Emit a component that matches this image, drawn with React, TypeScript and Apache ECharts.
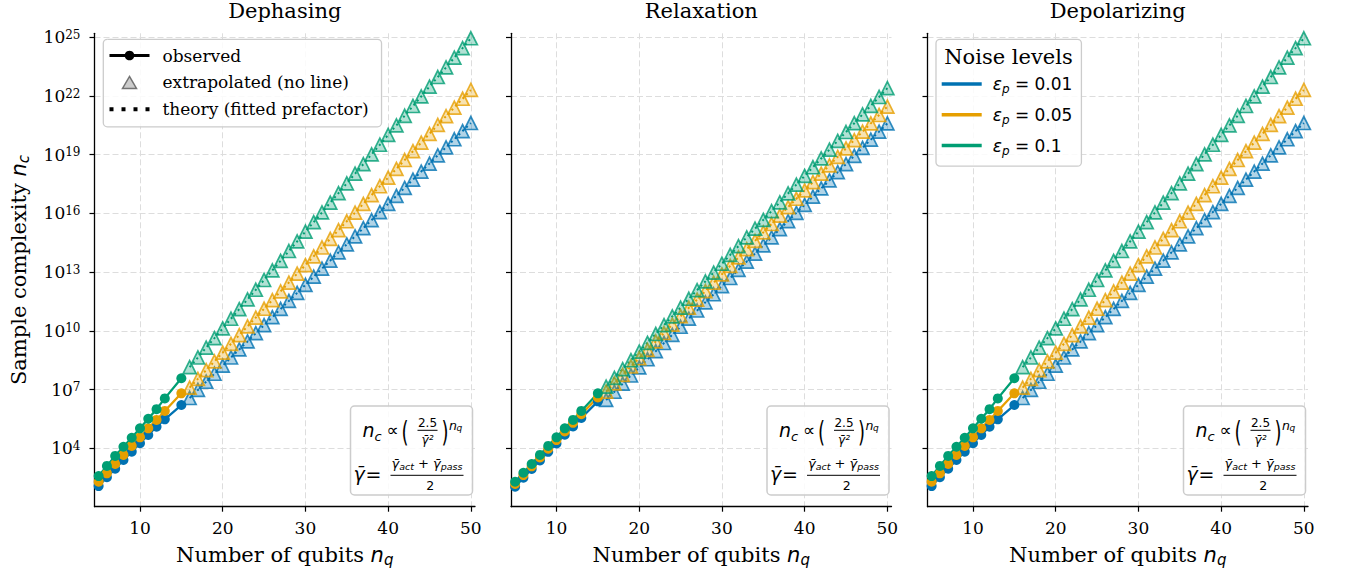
import React, { useEffect, useRef } from 'react';
import * as echarts from 'echarts';

// ---------------- data (log10 of sample complexity n_c) ----------------
const PANEL_TITLES = ['Dephasing', 'Relaxation', 'Depolarizing'];
const NOISE_LABELS = ['ε_p = 0.01', 'ε_p = 0.05', 'ε_p = 0.1'];
const NOISE_COLORS = ['#0072B2', '#E69F00', '#009E73'];
const NOISE_FILLS = ['rgba(0,114,178,0.38)', 'rgba(230,159,0,0.38)', 'rgba(0,158,115,0.38)'];
const X_TICKS = [10, 20, 30, 40, 50];
const Y_TICK_EXPONENTS = [4, 7, 10, 13, 16, 19, 22, 25];
const OBSERVED_N = [5, 6, 7, 8, 9, 10, 11, 12, 13, 15];
const EXTRAPOLATED_N = [16, 17, 18, 19, 20, 21, 22, 23, 24, 25, 26, 27, 28, 29, 30, 31, 32, 33, 34, 35, 36, 37, 38, 39, 40, 41, 42, 43, 44, 45, 46, 47, 48, 49, 50];

const dephObs001 = [2.07, 2.52, 2.96, 3.40, 3.83, 4.26, 4.68, 5.10, 5.48, 6.21];
const dephObs005 = [2.29, 2.72, 3.20, 3.66, 4.12, 4.56, 5.02, 5.45, 5.91, 6.81];
const dephObs010 = [2.58, 3.10, 3.61, 4.08, 4.54, 5.02, 5.51, 6.00, 6.55, 7.58];
const dephExt001 = [6.57, 6.98, 7.40, 7.81, 8.22, 8.64, 9.05, 9.46, 9.88, 10.29, 10.70, 11.12, 11.53, 11.94, 12.35, 12.77, 13.18, 13.59, 14.01, 14.42, 14.83, 15.25, 15.66, 16.07, 16.49, 16.90, 17.31, 17.73, 18.14, 18.55, 18.97, 19.38, 19.79, 20.21, 20.62];
const dephExt005 = [7.10, 7.55, 7.99, 8.44, 8.89, 9.34, 9.78, 10.23, 10.68, 11.13, 11.57, 12.02, 12.47, 12.92, 13.36, 13.81, 14.26, 14.70, 15.15, 15.60, 16.04, 16.49, 16.94, 17.39, 17.83, 18.28, 18.73, 19.18, 19.62, 20.07, 20.52, 20.97, 21.41, 21.86, 22.31];
const dephExt010 = [8.15, 8.64, 9.14, 9.63, 10.13, 10.62, 11.11, 11.61, 12.10, 12.60, 13.09, 13.58, 14.08, 14.57, 15.07, 15.56, 16.05, 16.55, 17.04, 17.54, 18.03, 18.52, 19.02, 19.51, 20.01, 20.50, 20.99, 21.49, 21.98, 22.48, 22.97, 23.46, 23.96, 24.45, 24.95];

const relaxObs001 = [2.04, 2.50, 2.94, 3.38, 3.82, 4.25, 4.69, 5.12, 5.55, 6.40];
const relaxObs005 = [2.18, 2.63, 3.08, 3.53, 3.98, 4.42, 4.86, 5.30, 5.74, 6.60];
const relaxObs010 = [2.29, 2.75, 3.20, 3.66, 4.12, 4.56, 5.02, 5.45, 5.91, 6.81];
const relaxExt001 = [6.47, 6.89, 7.30, 7.72, 8.13, 8.55, 8.96, 9.38, 9.80, 10.21, 10.63, 11.04, 11.46, 11.87, 12.29, 12.70, 13.12, 13.54, 13.95, 14.37, 14.78, 15.20, 15.61, 16.03, 16.44, 16.86, 17.28, 17.69, 18.11, 18.52, 18.94, 19.35, 19.77, 20.18, 20.60];
const relaxExt005 = [6.89, 7.32, 7.75, 8.18, 8.60, 9.03, 9.46, 9.89, 10.32, 10.75, 11.18, 11.60, 12.03, 12.46, 12.89, 13.32, 13.75, 14.18, 14.60, 15.03, 15.46, 15.89, 16.32, 16.75, 17.18, 17.60, 18.03, 18.46, 18.89, 19.32, 19.75, 20.18, 20.60, 21.03, 21.46];
const relaxExt010 = [7.15, 7.60, 8.05, 8.50, 8.94, 9.39, 9.84, 10.29, 10.74, 11.19, 11.64, 12.08, 12.53, 12.98, 13.43, 13.88, 14.33, 14.78, 15.22, 15.67, 16.12, 16.57, 17.02, 17.47, 17.92, 18.36, 18.81, 19.26, 19.71, 20.16, 20.61, 21.06, 21.50, 21.95, 22.40];

const depolObs001 = [2.07, 2.52, 2.96, 3.40, 3.83, 4.26, 4.68, 5.10, 5.48, 6.21];
const depolObs005 = [2.29, 2.72, 3.20, 3.66, 4.12, 4.56, 5.02, 5.45, 5.91, 6.81];
const depolObs010 = [2.58, 3.10, 3.61, 4.08, 4.54, 5.02, 5.51, 6.00, 6.55, 7.58];
const depolExt001 = [6.57, 6.98, 7.40, 7.81, 8.22, 8.64, 9.05, 9.46, 9.88, 10.29, 10.70, 11.12, 11.53, 11.94, 12.35, 12.77, 13.18, 13.59, 14.01, 14.42, 14.83, 15.25, 15.66, 16.07, 16.49, 16.90, 17.31, 17.73, 18.14, 18.55, 18.97, 19.38, 19.79, 20.21, 20.62];
const depolExt005 = [7.10, 7.55, 7.99, 8.44, 8.89, 9.34, 9.78, 10.23, 10.68, 11.13, 11.57, 12.02, 12.47, 12.92, 13.36, 13.81, 14.26, 14.70, 15.15, 15.60, 16.04, 16.49, 16.94, 17.39, 17.83, 18.28, 18.73, 19.18, 19.62, 20.07, 20.52, 20.97, 21.41, 21.86, 22.31];
const depolExt010 = [8.15, 8.64, 9.14, 9.63, 10.13, 10.62, 11.11, 11.61, 12.10, 12.60, 13.09, 13.58, 14.08, 14.57, 15.07, 15.56, 16.05, 16.55, 17.04, 17.54, 18.03, 18.52, 19.02, 19.51, 20.01, 20.50, 20.99, 21.49, 21.98, 22.48, 22.97, 23.46, 23.96, 24.45, 24.95];

const PANEL_OBSERVED = [
  [dephObs001, dephObs005, dephObs010],
  [relaxObs001, relaxObs005, relaxObs010],
  [depolObs001, depolObs005, depolObs010],
];
const PANEL_EXTRAPOLATED = [
  [dephExt001, dephExt005, dephExt010],
  [relaxExt001, relaxExt005, relaxExt010],
  [depolExt001, depolExt005, depolExt010],
];

// ---------------- layout ----------------
const GRID_LEFTS = [94.5, 511, 927.5];
const GRID_W = 380.5;
const GRID_TOP = 33.3;
const GRID_H = 473.4;
const Y_MIN_EXP = 1.016;
const Y_MAX_EXP = 25.204;

const SERIF = 'DejaVu Serif';
const SANS = 'DejaVu Sans';

const pw = (e: number) => Math.pow(10, e);

function formulaBox(left: number, top: number) {
  const t = (text: string, x: number, y: number, size: number, italic = false, align = 'left', scaleY = 1) => ({
    type: 'text', x, y, z: 101, silent: true, scaleY,
    style: { text, fontSize: size, fontFamily: SANS, fontStyle: italic ? 'italic' : 'normal', fill: '#000', align, verticalAlign: 'middle' },
  });
  return {
    type: 'group', x: left, y: top, z: 100,
    children: [
      { type: 'rect', z: 100, silent: true, shape: { x: 0, y: 0, width: 122, height: 89, r: 4 }, style: { fill: 'rgba(255,255,255,0.85)', stroke: '#cccccc', lineWidth: 1.5 } },
      t('n', 12, 24.3, 19, true),
      t('c', 24, 30.5, 13, true),
      t('∝', 36, 24.3, 17),
      t('(', 51, 26.5, 18, false, 'left', 1.6),
      t('2.5', 77, 16.8, 12, false, 'center'),
      { type: 'line', z: 101, silent: true, shape: { x1: 67, y1: 24.3, x2: 87, y2: 24.3 }, style: { stroke: '#000', lineWidth: 1 } },
      t('γ̄²', 77, 34.3, 12, true, 'center'),
      t(')', 91, 26.5, 18, false, 'left', 1.6),
      t('n', 98.5, 19, 12.5, true),
      t('q', 106, 22, 9, true),
      t('γ̄', 3, 67.6, 19, true),
      t('=', 15, 67.6, 19),
      {
        type: 'text', x: 76.5, y: 57.6, z: 101, silent: true,
        style: {
          text: '{g|γ̄}{s|act}{o| + }{g|γ̄}{s|pass}', align: 'center', verticalAlign: 'middle', fill: '#000',
          rich: {
            g: { fontSize: 13, fontFamily: SANS, fontStyle: 'italic', lineHeight: 16 },
            s: { fontSize: 9.5, fontFamily: SANS, fontStyle: 'italic', lineHeight: 10, verticalAlign: 'bottom' },
            o: { fontSize: 13, fontFamily: SANS, lineHeight: 16 },
          },
        },
      },
      { type: 'line', z: 101, silent: true, shape: { x1: 40, y1: 69.3, x2: 113, y2: 69.3 }, style: { stroke: '#000', lineWidth: 1 } },
      t('2', 79.7, 79.3, 12.5, false, 'center'),
    ],
  };
}

function buildOption() {
  const grids = GRID_LEFTS.map((l) => ({ left: l, top: GRID_TOP, width: GRID_W, height: GRID_H }));
  const splitLine = { show: true, lineStyle: { color: '#dddddd', type: [6, 3], width: 1 } };
  const nameRich = {
    a: { fontSize: 21, fontFamily: SERIF, color: '#000', lineHeight: 26 },
    i: { fontSize: 21, fontFamily: SANS, fontStyle: 'italic', color: '#000', lineHeight: 26 },
    s: { fontSize: 15, fontFamily: SANS, fontStyle: 'italic', color: '#000', lineHeight: 15, verticalAlign: 'bottom' },
  };
  const xAxes = GRID_LEFTS.map((_, i) => ({
    type: 'value', gridIndex: i, min: 4.5, max: 50.5,
    name: '{a|Number of qubits }{i|n}{s|q}', nameLocation: 'middle', nameGap: 35,
    nameTextStyle: { rich: nameRich },
    axisLine: { show: true, onZero: false, lineStyle: { color: '#000', width: 1.3 } },
    axisTick: { show: true, length: 5, customValues: X_TICKS, lineStyle: { color: '#000', width: 1.2 } },
    axisLabel: {
      customValues: X_TICKS, margin: 11,
      formatter: (v: number) => `{t|${v}}`,
      rich: { t: { fontSize: 17, fontFamily: SERIF, color: '#000', lineHeight: 20 } },
    },
    splitLine,
  }));
  const Y_TICKS = Y_TICK_EXPONENTS.map(pw);
  const yAxes = GRID_LEFTS.map((_, i) => ({
    type: 'log', logBase: 10, gridIndex: i, min: pw(Y_MIN_EXP), max: pw(Y_MAX_EXP),
    name: i === 0 ? '{a|Sample complexity }{i|n}{s|c}' : '', nameLocation: 'middle', nameGap: 63, nameRotate: 90,
    nameTextStyle: { rich: nameRich },
    axisLine: { show: true, onZero: false, lineStyle: { color: '#000', width: 1.3 } },
    axisTick: { show: true, length: 5, customValues: Y_TICKS, lineStyle: { color: '#000', width: 1.2 } },
    axisLabel: {
      show: i === 0, customValues: Y_TICKS, margin: 14,
      formatter: (v: number) => `{b|10}{e|${Math.round(Math.log10(v))}}`,
      rich: {
        b: { fontSize: 17, fontFamily: SERIF, color: '#000', lineHeight: 17, padding: [5, 0, 0, 0], verticalAlign: 'bottom' },
        e: { fontSize: 12, fontFamily: SERIF, color: '#000', lineHeight: 12, verticalAlign: 'top' },
      },
    },
    splitLine,
  }));

  const series: any[] = [];
  for (let p = 0; p < 3; p++) {
    for (let k = 0; k < 3; k++) {
      const color = NOISE_COLORS[k];
      const obs = PANEL_OBSERVED[p][k];
      const ext = PANEL_EXTRAPOLATED[p][k];
      series.push({
        name: `${PANEL_TITLES[p]} observed ${NOISE_LABELS[k]}`, type: 'line', xAxisIndex: p, yAxisIndex: p,
        data: OBSERVED_N.map((n, i) => [n, pw(obs[i])]), symbol: 'circle', symbolSize: 10, showSymbol: true,
        lineStyle: { color, width: 2.3 }, itemStyle: { color }, silent: true, z: 2,
      });
      series.push({
        name: `${PANEL_TITLES[p]} extrapolated ${NOISE_LABELS[k]}`, type: 'scatter', xAxisIndex: p, yAxisIndex: p,
        data: EXTRAPOLATED_N.map((n, i) => [n, pw(ext[i])]), symbol: 'triangle', symbolSize: 13,
        itemStyle: { color: NOISE_FILLS[k], borderColor: color, borderWidth: 1.7 }, silent: true, z: 2,
      });
      series.push({
        name: `${PANEL_TITLES[p]} theory ${NOISE_LABELS[k]}`, type: 'line', xAxisIndex: p, yAxisIndex: p,
        data: EXTRAPOLATED_N.map((n, i) => [n, pw(ext[i])]), symbol: 'none', showSymbol: false,
        lineStyle: { color, width: 2, type: [2, 3.3] }, itemStyle: { color }, silent: true, z: 2,
      });
    }
  }
  // legend entries (no data)
  series.push({ name: 'observed', type: 'line', xAxisIndex: 0, yAxisIndex: 0, data: [], symbol: 'circle', symbolSize: 9, color: '#000', itemStyle: { color: '#000' }, lineStyle: { color: '#000', width: 3 } });
  series.push({ name: 'extrapolated (no line)', type: 'scatter', xAxisIndex: 0, yAxisIndex: 0, data: [], symbol: 'triangle', color: 'rgba(128,128,128,0.5)', itemStyle: { color: 'rgba(128,128,128,0.5)', borderColor: '#555', borderWidth: 1.5 } });
  series.push({ name: 'theory (fitted prefactor)', type: 'line', xAxisIndex: 0, yAxisIndex: 0, data: [], symbol: 'none', color: '#000', itemStyle: { color: '#000' }, lineStyle: { color: '#000', width: 3, type: 'dotted' } });
  NOISE_LABELS.forEach((label, k) => {
    series.push({ name: label, type: 'line', xAxisIndex: 2, yAxisIndex: 2, data: [], symbol: 'none', color: NOISE_COLORS[k], itemStyle: { color: NOISE_COLORS[k] }, lineStyle: { color: NOISE_COLORS[k], width: 3 } });
  });

  const legendBox = { backgroundColor: 'rgba(255,255,255,0.85)', borderColor: '#cccccc', borderWidth: 1.3, borderRadius: 4 };

  return {
    animation: false,
    backgroundColor: '#ffffff',
    title: PANEL_TITLES.map((text, i) => ({
      text, left: GRID_LEFTS[i] + GRID_W / 2, top: 0, textAlign: 'center', padding: 0,
      textStyle: { fontSize: 21, fontFamily: SERIF, fontWeight: 'normal', color: '#000' },
    })),
    grid: grids,
    xAxis: xAxes,
    yAxis: yAxes,
    legend: [
      {
        ...legendBox, orient: 'vertical', left: 103.3, top: 39.3, padding: [7.7, 13, 9, 4.7], itemGap: 9.9,
        itemWidth: 40, itemHeight: 12, selectedMode: false, align: 'left',
        lineStyle: { width: 3 },
        data: [
          { name: 'observed' },
          { name: 'extrapolated (no line)', icon: 'path://M0,6L0,6M20,0L27,12L13,12ZM40,6L40,6', itemStyle: { color: 'rgba(128,128,128,0.5)', borderColor: '#555', borderWidth: 1.5 } },
          { name: 'theory (fitted prefactor)', icon: 'path://M0,0h4v4h-4zM12,0h4v4h-4zM24,0h4v4h-4zM36,0h4v4h-4z', itemStyle: { color: '#000' } },
        ],
        formatter: '{t|{name}}',
        textStyle: { rich: { t: { fontSize: 17, fontFamily: SERIF, color: '#000', lineHeight: 20, padding: [0, 0, 0, 8] } } },
      },
      {
        ...legendBox, orient: 'vertical', left: 936, top: 39.3, padding: [36.3, 9, 9.7, 5.7], itemGap: 11.2,
        itemWidth: 40, itemHeight: 3.5, icon: 'rect', selectedMode: false, align: 'left',
        data: NOISE_LABELS,
        formatter: (name: string) => `{e|ε}{p|p}{t| = ${name.split('= ')[1]}}`,
        textStyle: {
          rich: {
            e: { fontSize: 17, fontFamily: SANS, fontStyle: 'italic', color: '#000', lineHeight: 22, padding: [0, 0, 0, 6] },
            p: { fontSize: 12, fontFamily: SANS, fontStyle: 'italic', color: '#000', lineHeight: 12, verticalAlign: 'bottom' },
            t: { fontSize: 17, fontFamily: SANS, color: '#000', lineHeight: 22 },
          },
        },
      },
    ],
    graphic: [
      ...GRID_LEFTS.map((l) => formulaBox(l + GRID_W - 2.5 - 122, 406)),
      { type: 'text', x: 1008.5, y: 57, z: 110, silent: true, style: { text: 'Noise levels', fontSize: 21, fontFamily: SERIF, fill: '#000', align: 'center', verticalAlign: 'middle' } },
    ],
    series,
  };
}

export default function App() {
  const ref = useRef<HTMLDivElement>(null);
  useEffect(() => {
    if (!ref.current) return;
    const chart = echarts.init(ref.current, null, { renderer: 'svg' });
    chart.setOption(buildOption() as any);
    return () => chart.dispose();
  }, []);
  return <div ref={ref} style={{ position: 'fixed', left: 0, top: 0, width: 1346, height: 576, background: '#fff' }} />;
}
